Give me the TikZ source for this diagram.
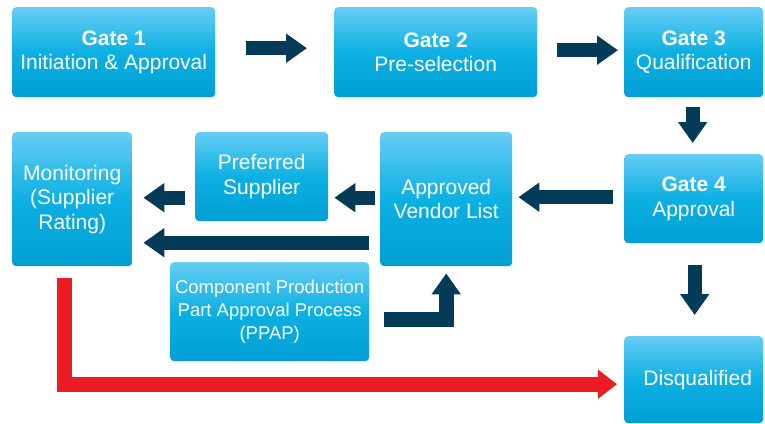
\documentclass[tikz,border=0pt]{standalone}
\usepackage{fontspec}
\setmainfont{Liberation Sans}
\usetikzlibrary{arrows.meta,calc}

\definecolor{boxtop}{HTML}{66CDF5}
\definecolor{boxmid}{HTML}{0DB0E2}
\definecolor{boxbot}{HTML}{009FD5}
\definecolor{navy}{HTML}{043B59}
\definecolor{alarm}{HTML}{ED1C24}

\tikzset{
  stagebox/.style={rounded corners=4pt, top color=boxtop, bottom color=boxbot,
    middle color=boxmid, draw=none, anchor=north west, inner sep=0pt,
    align=center, text=white, font=\fontsize{21}{24.5}\selectfont},
  flowarrow/.style={draw=navy, line width=14pt,
    -{Triangle[width=28pt,length=21pt]}, color=navy},
  failarrow/.style={draw=alarm, line width=15pt, line join=miter,
    -{Triangle[width=28pt,length=19pt]}, color=alarm},
}

\begin{document}
\begin{tikzpicture}[x=1pt,y=-1pt]
\useasboundingbox (0,0) rectangle (765,423);

% stages
\node[stagebox, minimum width=203pt, minimum height=90pt] (g1) at (12,7)
  {\textbf{Gate 1}\\Initiation \& Approval};
\node[stagebox, minimum width=203pt, minimum height=90pt] (g2) at (334,7)
  {\textbf{Gate 2}\\Pre-selection};
\node[stagebox, minimum width=139pt, minimum height=90pt] (g3) at (624,7)
  {\textbf{Gate 3}\\Qualification};
\node[stagebox, minimum width=139pt, minimum height=89pt] (g4) at (624,154)
  {\textbf{Gate 4}\\Approval};
\node[stagebox, minimum width=132pt, minimum height=134pt] (avl) at (380,132)
  {Approved\\Vendor List};
\node[stagebox, minimum width=133pt, minimum height=89pt] (pref) at (195,132)
  {Preferred\\Supplier};
\node[stagebox, minimum width=120pt, minimum height=134pt] (mon) at (12,132)
  {Monitoring\\(Supplier\\Rating)};
\node[stagebox, minimum width=199pt, minimum height=99pt,
      font=\fontsize{18.5}{23}\selectfont] (ppap) at (170,262)
  {Component Production\\Part Approval Process\\(PPAP)};
\node[stagebox, minimum width=139pt, minimum height=87pt] (disq) at (624,336)
  {\hspace*{8pt}Disqualified};

% gate sequence
\draw[flowarrow] ([xshift=31pt,yshift=4pt]g1.east) coordinate (a1)
  -- ($(a1 -| g2.west)+(-27,0)$);
\draw[flowarrow] ([xshift=20pt,yshift=2pt]g2.east) coordinate (a2)
  -- ($(a2 -| g3.west)+(-6,0)$);
\draw[flowarrow] ([xshift=-1pt,yshift=-10pt]g3.south) coordinate (a3)
  -- ($(a3 |- g4.north)+(0,-11)$);

% approval path
\draw[flowarrow] ([xshift=-11pt,yshift=1.5pt]g4.west) coordinate (a4)
  -- ($(a4 -| avl.east)+(6,0)$);
\draw[flowarrow] ([xshift=-5pt,yshift=1.5pt]avl.west) coordinate (a5)
  -- ($(a5 -| pref.east)+(6,0)$);
\draw[flowarrow] ([xshift=-10pt,yshift=-21pt]pref.west) coordinate (a6)
  -- ($(a6 -| mon.east)+(11,0)$);
\draw[flowarrow] ([xshift=-11pt,yshift=-43.5pt]avl.west) coordinate (a7)
  -- ($(a7 -| mon.east)+(11,0)$);

% PPAP feeds the vendor list
\draw[flowarrow, line width=15pt, line join=miter]
  ([xshift=15pt,yshift=-8pt]ppap.east) -| ([yshift=-7pt]avl.south);

% rejection
\draw[flowarrow] ([xshift=1pt,yshift=-22pt]g4.south) coordinate (a8)
  -- ($(a8 |- disq.north)+(0,-21)$);
\draw[failarrow] ([xshift=-7.5pt,yshift=-12pt]mon.south)
  |- ([xshift=-7pt,yshift=-4.5pt]disq.west);
\end{tikzpicture}
\end{document}
